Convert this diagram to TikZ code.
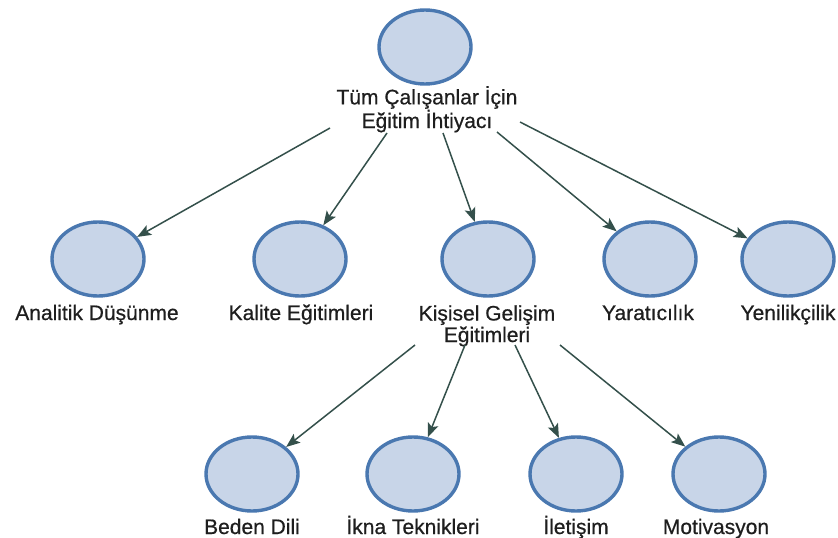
\documentclass[tikz,border=0pt]{standalone}
\usepackage{fontspec}
\setmainfont{Liberation Sans}
\newfontfamily\lblfont[FakeBold=0.6]{Liberation Sans}
\usetikzlibrary{shapes.geometric,arrows.meta}
\definecolor{ringblue}{HTML}{4A78B0}
\definecolor{fillblue}{HTML}{C8D5E8}
\definecolor{arrowgreen}{HTML}{34504B}
\definecolor{txt}{HTML}{1E1E1E}
\tikzset{
  bubble/.style={ellipse, draw=ringblue, line width=3.4pt, fill=fillblue,
    inner sep=0pt, minimum width=92pt, minimum height=74pt},
  lbl/.style={font=\lblfont\fontsize{21}{21.5}\selectfont, text=txt, inner sep=0pt, align=center},
  conn/.style={draw=arrowgreen, line width=1.5pt, -{Stealth[length=14pt,width=11pt,inset=3pt]}}
}
\begin{document}
\begin{tikzpicture}[x=1pt,y=-1pt]
\useasboundingbox (0,0) rectangle (838,538);
% top
\node[bubble] (top) at (425,47) {};
\node[lbl,anchor=base] (toplbl) at (427,128) {Tüm Çalışanlar İçin\\Eğitim İhtiyacı};
% level 2
\node[bubble] (ana) at (98,259) {};
\node[bubble] (kal) at (300,259) {};
\node[bubble] (kis) at (488,259) {};
\node[bubble] (yar) at (650,259) {};
\node[bubble] (yen) at (788,259) {};
\node[lbl,anchor=base] (analbl) at (97,320) {Analitik Düşünme};
\node[lbl,anchor=base] (kallbl) at (301,320) {Kalite Eğitimleri};
\node[lbl,anchor=base] (kislbl) at (487,342) {Kişisel Gelişim\\Eğitimleri};
\node[lbl,anchor=base] (yarlbl) at (648,320) {Yaratıcılık};
\node[lbl,anchor=base] (yenlbl) at (788,320) {Yenilikçilik};
% level 3
\node[bubble] (bed) at (252,474) {};
\node[bubble] (ikn) at (413,474) {};
\node[bubble] (ile) at (576,474) {};
\node[bubble] (mot) at (719,474) {};
\node[lbl,anchor=base] (bedlbl) at (252,534) {Beden Dili};
\node[lbl,anchor=base] (iknlbl) at (413,534) {İkna Teknikleri};
\node[lbl,anchor=base] (ilelbl) at (576,534) {İletişim};
\node[lbl,anchor=base] (motlbl) at (716,534) {Motivasyon};
% connector starts
\coordinate (s1) at (330,128);
\coordinate (s2) at (387,133);
\coordinate (s3) at (443,133);
\coordinate (s4) at (497,132);
\coordinate (s5) at (520,122);
\coordinate (k1) at (415,345);
\coordinate (k2) at (465,345);
\coordinate (k3) at (515,345);
\coordinate (k4) at (560,345);
\draw[conn] (s1) -- (ana);
\draw[conn] (s2) -- (kal);
\draw[conn] (s3) -- (kis);
\draw[conn] (s4) -- (yar);
\draw[conn] (s5) -- (yen);
\draw[conn] (k1) -- (bed);
\draw[conn] (k2) -- (ikn);
\draw[conn] (k3) -- (ile);
\draw[conn] (k4) -- (mot);
\end{tikzpicture}
\end{document}
